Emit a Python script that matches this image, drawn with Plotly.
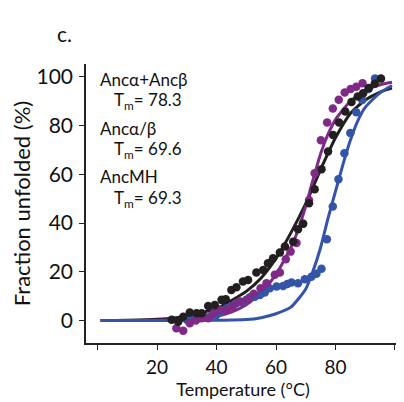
import plotly.graph_objects as go

# ---- data ----
# fitted curves (read at sample temperatures)
black_fit_T = [1, 10, 20, 30, 40, 50, 55, 60, 65, 70, 75, 80, 85, 90, 95, 99]
black_fit_v = [0, 0.1, 0.5, 1.8, 5.0, 12.0, 17.5, 25.5, 36.0, 48.0, 62.0, 75.0, 85.0, 90.5, 93.8, 95.4]

purple_fit_T = [1, 10, 20, 30, 40, 45, 50, 55, 60, 65, 67.5, 70, 72.5, 75, 77.5, 80, 85, 90, 95, 99]
purple_fit_v = [0, 0, 0.1, 0.5, 1.8, 3.5, 6.5, 11.5, 19.0, 30.0, 37.5, 47.0, 58.0, 68.5, 76.5, 82.5, 90.0, 94.5, 96.8, 97.8]

blue_fit_T = [1, 20, 40, 50, 55, 60, 65, 70, 72.5, 75, 77.5, 80, 82.5, 85, 87.5, 90, 95, 99]
blue_fit_v = [0, 0, 0.1, 0.4, 1.2, 2.8, 5.5, 13.0, 20.5, 30.0, 42.0, 53.0, 64.0, 74.0, 82.0, 87.5, 93.5, 96.5]

# measured points
black_T = [24.9, 27.1, 28.8, 31.0, 33.3, 35.0, 37.2, 39.4, 41.7, 43.1, 45.0, 46.7, 48.9, 50.6,
           53.4, 55.7, 57.3, 59.0, 61.3, 63.0, 65.8, 67.4, 69.1, 71.1, 73.0, 75.3, 77.5, 79.2,
           81.2, 83.3, 85.4, 87.5, 89.3, 91.2, 93.2, 95.3]
black_v = [0.3, -0.5, 1.6, 3.3, 3.0, 3.0, 6.0, 6.4, 8.5, 8.8, 12.6, 13.7, 16.0, 16.7,
           19.7, 20.8, 23.5, 25.6, 27.9, 30.4, 32.4, 37.5, 39.7, 48.2, 53.9, 62.1, 69.4, 76.2,
           81.3, 85.8, 89.7, 92.0, 93.3, 95.4, 97.2, 99.3]

purple_T = [26.5, 28.8, 31.0, 33.0, 35.0, 37.2, 39.0, 41.1, 43.6, 45.5, 47.8, 50.6, 52.5, 54.8,
            56.8, 59.6, 61.3, 63.3, 64.9, 66.9, 69.1, 71.1, 73.0, 75.1, 77.2, 79.1, 81.1, 83.1,
            85.1, 87.0, 89.1]
purple_v = [-3.1, -4.2, -1.1, 0.0, 1.0, 1.0, 3.0, 4.4, 4.4, 6.0, 7.8, 8.5, 11.0, 13.3,
            15.3, 18.8, 19.7, 25.2, 28.3, 31.8, 39.7, 49.5, 60.5, 74.0, 81.3, 87.0, 90.6, 93.6,
            95.0, 96.0, 97.4]

blue_T = [30, 32, 34, 36, 38, 40, 41.8, 43.4, 45, 46.7, 48.4, 50, 51.2, 52.9, 54.6, 56.2, 57.9,
          60.2, 62.4, 63.8, 65.2, 67.4, 69.7, 71.9, 73.6, 75.3, 77.1, 79.1, 81.0, 83.0, 85.0,
          87.0, 89.0, 91.1, 93.3]
blue_v = [0.3, 0.5, 1.0, 1.5, 1.8, 2.3, 4.0, 5.0, 6.0, 7.1, 7.6, 8.5, 9.6, 9.8, 10.5, 11.5, 13.3,
          14.0, 14.2, 15.0, 15.6, 15.3, 17.0, 18.0, 19.2, 21.3, 33.4, 46.8, 58.0, 68.7, 77.0,
          85.5, 90.5, 95.0, 99.3]

x_tickvals = [0, 20, 40, 60, 80, 100]
x_ticktext = ["", "20", "40", "60", "80", ""]
y_tickvals = [0, 20, 40, 60, 80, 100]

labels = ["Ancα+Ancβ", "T<sub>m</sub>= 78.3", "Ancα/β", "T<sub>m</sub>= 69.6", "AncMH", "T<sub>m</sub>= 69.3"]

BLACK = "#231f20"
PURPLE = "#7e2a86"
BLUE = "#3454a8"

FONT = "Lato"

fig = go.Figure()
for T, v, c in [(black_fit_T, black_fit_v, BLACK), (purple_fit_T, purple_fit_v, PURPLE),
                (blue_fit_T, blue_fit_v, BLUE)]:
    fig.add_trace(go.Scatter(x=T, y=v, mode="lines", line=dict(color=c, width=3, shape="spline", smoothing=0.6),
                             hoverinfo="skip", showlegend=False))
for T, v, c in [(blue_T, blue_v, BLUE), (purple_T, purple_v, PURPLE), (black_T, black_v, BLACK)]:
    fig.add_trace(go.Scatter(x=T, y=v, mode="markers", marker=dict(color=c, size=8.5, line=dict(width=0)),
                             showlegend=False))

# annotation positions
label_pos = [(0.3, 98.8), (5.0, 90.2), (0.3, 78.7), (5.0, 70.0), (0.3, 59.0), (5.0, 49.9)]
for txt, (x, y) in zip(labels, label_pos):
    fig.add_annotation(x=x, y=y, xref="x", yref="y", text=txt, showarrow=False,
                       xanchor="left", yanchor="middle",
                       font=dict(family=FONT, size=17, color="#111111"))

fig.add_annotation(x=-0.07, y=1.11, xref="paper", yref="paper", text="c.", showarrow=False,
                   xanchor="center", yanchor="middle",
                   font=dict(family=FONT, size=21, color="#111111"))

# page body adds an 8px offset, so the figure is drawn 8px smaller
fig.update_layout(
    width=396, height=394,
    margin=dict(l=78, r=4, t=56, b=59, autoexpand=False),
    paper_bgcolor="white", plot_bgcolor="white",
    font=dict(family=FONT, color="#111111"),
)
fig.update_xaxes(range=[-3.9, 101.7], showgrid=False, zeroline=False, automargin=False,
                 showline=True, linecolor="#222222", linewidth=1.5,
                 ticks="outside", ticklen=5, tickwidth=1.2, tickcolor="#222222",
                 tickvals=x_tickvals, ticktext=x_ticktext,
                 tickfont=dict(family=FONT, size=19), ticklabelstandoff=1,
                 title=dict(text="Temperature (°C)", font=dict(family=FONT, size=18), standoff=1))
fig.update_yaxes(range=[-9.2, 105.3], showgrid=False, zeroline=False, automargin=False,
                 showline=True, linecolor="#222222", linewidth=1.5,
                 ticks="outside", ticklen=5, tickwidth=1.2, tickcolor="#222222",
                 tickvals=y_tickvals,
                 tickfont=dict(family=FONT, size=21), ticklabelstandoff=2,
                 title=dict(text="Fraction unfolded (%)", font=dict(family=FONT, size=22), standoff=4))

fig.write_html("out.html")
